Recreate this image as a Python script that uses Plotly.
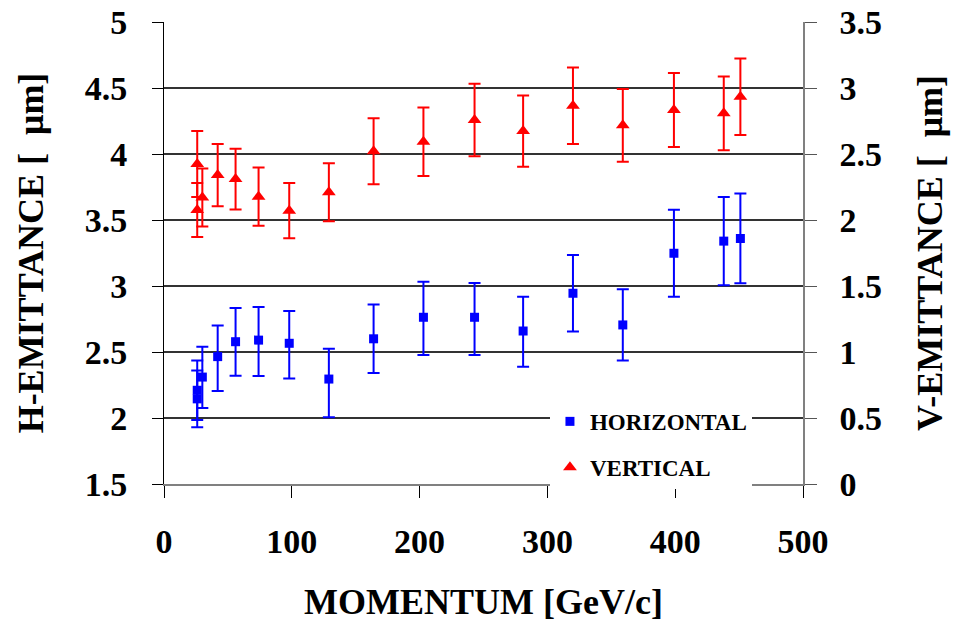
import plotly.graph_objects as go

# Momentum [GeV/c]
momentum = [26, 26, 30, 42, 56, 74, 98, 129, 164, 203, 243, 281, 320, 359, 399, 438, 451]

# Horizontal emittance [um] (left axis)
h_emit = [2.21, 2.145, 2.31, 2.465, 2.578, 2.59, 2.566, 2.295, 2.60, 2.763, 2.763, 2.659, 2.945, 2.705, 3.248, 3.34, 3.36]
h_err_plus = [0.225, 0.215, 0.23, 0.235, 0.255, 0.25, 0.245, 0.23, 0.26, 0.27, 0.26, 0.26, 0.29, 0.27, 0.33, 0.335, 0.34]
h_err_minus = [0.225, 0.215, 0.235, 0.26, 0.258, 0.272, 0.266, 0.29, 0.26, 0.286, 0.286, 0.27, 0.29, 0.27, 0.33, 0.335, 0.34]

# Vertical emittance [um] (right axis)
v_emit = [2.425, 2.076, 2.17, 2.34, 2.31, 2.177, 2.071, 2.21, 2.52, 2.593, 2.758, 2.674, 2.866, 2.717, 2.833, 2.808, 2.934]
v_err = [0.25, 0.205, 0.22, 0.235, 0.23, 0.22, 0.21, 0.22, 0.25, 0.26, 0.275, 0.27, 0.29, 0.275, 0.28, 0.28, 0.29]

x_ticks = [0, 100, 200, 300, 400, 500]
left_ticks = [1.5, 2, 2.5, 3, 3.5, 4, 4.5, 5]
right_ticks = [0, 0.5, 1, 1.5, 2, 2.5, 3, 3.5]

FONT = "Liberation Serif"

fig = go.Figure()
fig.add_trace(go.Scatter(
    x=momentum, y=h_emit, mode="markers", name="HORIZONTAL",
    legendgroup="h",
    marker=dict(symbol="square", size=9, color="#0000FF"),
    error_y=dict(type="data", array=h_err_plus, arrayminus=h_err_minus,
                 color="#0000FF", thickness=2, width=6),
    yaxis="y",
))
fig.add_trace(go.Scatter(
    x=momentum, y=v_emit, mode="markers", name="VERTICAL",
    legendgroup="v",
    marker=dict(symbol="triangle-up", size=12, color="#FF0000"),
    error_y=dict(type="data", array=v_err, color="#FF0000", thickness=2, width=6),
    yaxis="y2",
))

tickfont = dict(family=FONT, size=34, color="black", weight="bold")
titlefont = dict(family=FONT, size=36, color="black", weight="bold")

fig.update_layout(
    width=966, height=622,
    margin=dict(l=164, r=163, t=22, b=138, autoexpand=False),
    paper_bgcolor="white", plot_bgcolor="white",
    showlegend=True,
    legend=dict(
        x=0.604, y=0.182, xanchor="left", yanchor="top",
        bgcolor="white", borderwidth=0,
        font=dict(family=FONT, size=23, color="black", weight="bold"),
        traceorder="grouped", tracegroupgap=13,
        itemwidth=30,
    ),
    xaxis=dict(
        range=[0, 500], tickvals=x_ticks, ticktext=[str(v) for v in x_ticks],
        showgrid=False, zeroline=False, automargin=False,
        showline=True, linecolor="#808080", linewidth=2,
        ticks="outside", ticklen=12, tickcolor="black", tickwidth=1,
        tickfont=tickfont, ticklabelstandoff=14,
        title=dict(text="MOMENTUM [GeV/c]", font=titlefont, standoff=34),
    ),
    yaxis=dict(
        range=[1.5, 5], tickvals=left_ticks, ticktext=[f"{v:g}" for v in left_ticks],
        showgrid=True, gridcolor="#333333", gridwidth=1.5,
        zeroline=False, automargin=False,
        showline=True, linecolor="black", linewidth=1,
        ticks="outside", ticklen=11, tickcolor="black", tickwidth=1,
        tickfont=tickfont, ticklabelstandoff=18,
        title=dict(text="H-EMITTANCE [  μm]", font=titlefont, standoff=30),
    ),
    yaxis2=dict(
        range=[0, 3.5], tickvals=right_ticks, ticktext=[f"{v:g}" for v in right_ticks],
        overlaying="y", side="right", automargin=False,
        showgrid=False, zeroline=False,
        showline=True, linecolor="#808080", linewidth=1.5,
        ticks="outside", ticklen=12, tickcolor="#555555", tickwidth=1,
        tickfont=tickfont, ticklabelstandoff=16,
        title=dict(text="V-EMITTANCE [  μm]", font=titlefont, standoff=36),
    ),
)

fig.write_html("out.html")
